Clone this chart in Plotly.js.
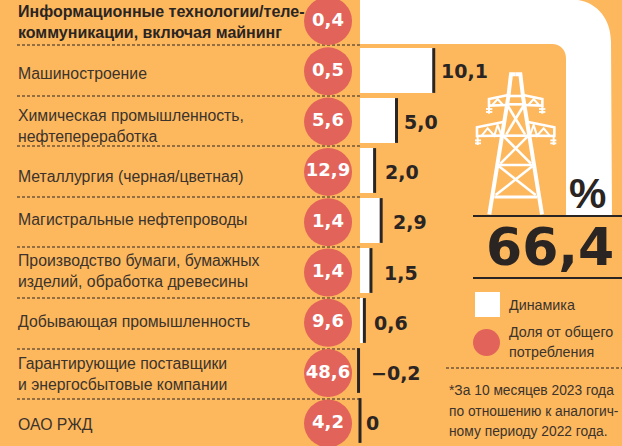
<!DOCTYPE html>
<html><head><meta charset="utf-8">
<script src="https://cdn.plot.ly/plotly-3.0.1.min.js"></script>
<style>html,body{margin:0;padding:0;background:#FDB85E;overflow:hidden}#c{width:622px;height:446px}</style>
</head><body><div id="c"></div>
<script>
const categories = [
 "<b>Информационные технологии/теле-<br>коммуникации, включая майнинг</b>",
 "Машиностроение",
 "Химическая промышленность,<br>нефтепереработка",
 "Металлургия (черная/цветная)",
 "Магистральные нефтепроводы",
 "Производство бумаги, бумажных<br>изделий, обработка древесины",
 "Добывающая промышленность",
 "Гарантирующие поставщики<br>и энергосбытовые компании",
 "ОАО РЖД"];
const dynamics = [66.4, 10.1, 5.0, 2.0, 2.9, 1.5, 0.6, -0.2, 0];
const share = [0.4, 0.5, 5.6, 12.9, 1.4, 1.4, 9.6, 48.6, 4.2];

const W = 622, H = 446;
const BG = '#FDB85E', RED = '#E2635A', INK = '#2A2523', TXT = '#3B332C';
const SANS = '"Liberation Sans",sans-serif';
const WIDE = '"DejaVu Sans",sans-serif';
const px = (x) => x / W, py = (y) => 1 - y / H;
const P = (x, y) => px(x).toFixed(5) + ' ' + py(y).toFixed(5);
const fmt = (v) => v === 0 ? '0' : (v < 0 ? '\u2212' : '') + Math.abs(v).toFixed(1).replace('.', ',');
const rows = categories.map((_, i) => i);

const traces = [
 {type:'bar', orientation:'h', x:dynamics.slice(1), y:rows.slice(1), width:0.9,
  marker:{color:'#fff', line:{width:0}}, hoverinfo:'skip', showlegend:false},
 {type:'scatter', mode:'markers', x:dynamics.slice(1), y:rows.slice(1),
  marker:{symbol:'line-ns', size:32, color:INK, line:{width:3, color:INK}}, hoverinfo:'skip', showlegend:false},
 {type:'scatter', mode:'markers+text', x:share.map(() => -4.38), y:rows, yaxis:'y2',
  marker:{size:48, color:RED, line:{width:0}},
  text:share.map(fmt), textposition:'middle center',
  textfont:{family:WIDE, size:18, color:'#fff', weight:700},
  hoverinfo:'skip', showlegend:false}
];

const labelShift = [1, 2, 4, 5, -3, -2, -1, 1, 1];
const valueGap = [0, 6, 6, 9, 11, 12, 9, 11, 5];
const ann = [];
categories.forEach((c, i) => ann.push({xref:'paper', yref:'y2', x:px(17), y:i, xanchor:'left', yanchor:'middle',
  yshift:-labelShift[i], text:c, align:'left', showarrow:false, borderpad:0,
  font:{family:SANS, size:i === 0 ? 16 : 15.8, color:i === 0 ? INK : TXT}}));
dynamics.slice(1).forEach((v, k) => ann.push({xref:'x', yref:'y2', x:v, y:k + 1, xanchor:'left', yanchor:'middle',
  xshift:valueGap[k + 1], text:'<b>' + fmt(v) + '</b>', showarrow:false, borderpad:0,
  font:{family:WIDE, size:19, color:INK}}));
const free = (x, y, text, font, xanchor) => ann.push({xref:'paper', yref:'paper', x:px(x), y:py(y), xanchor:xanchor || 'left', yanchor:'middle',
  text, align:'left', showarrow:false, borderpad:0, font});
const small = {family:SANS, size:14.3, color:TXT};
const note = {family:SANS, size:13.8, color:TXT};
free(587, 194, '<b>%</b>', {family:SANS, size:42, color:INK}, 'center');
free(550, 247, '<b>' + fmt(dynamics[0]) + '</b>', {family:WIDE, size:52, color:INK}, 'center');
free(508, 305, 'Динамика', small);
free(508, 332, 'Доля от общего', small);
free(508, 352, 'потребления', small);
free(448, 390, '*За 10 месяцев 2023 года', note);
free(448, 411, 'по отношению к аналогич-', note);
free(448, 431, 'ному периоду 2022 года.', note);

const shapes = [];
const pathShape = (path, fill, lineW, color, layer) => shapes.push({type:'path', xref:'paper', yref:'paper', path, layer:layer || 'below',
  fillcolor:fill || 'rgba(0,0,0,0)', line:{width:lineW || 0, color:color || 'rgba(0,0,0,0)'}});
// bent band of the first row
pathShape('M' + P(360,0) + ' L' + P(578,0) + ' C' + P(598,3) + ' ' + P(611,20) + ' ' + P(611,42) +
  ' L' + P(612,215) + ' L' + P(566,215) + ' L' + P(566,58) + ' C' + P(566,50) + ' ' + P(560,44) + ' ' + P(552,44) +
  ' L' + P(360,44) + ' Z', '#fff');
[45, 96, 146, 197, 247, 298, 349, 399].forEach(y => shapes.push({type:'line', xref:'paper', yref:'paper', x0:px(17), x1:px(361), y0:py(y), y1:py(y), layer:'below',
  line:{width:1, color:INK, dash:'3px,2px'}}));
shapes.push({type:'line', xref:'paper', yref:'paper', x0:px(446), x1:px(622), y0:py(368), y1:py(368), layer:'below', line:{width:1, color:INK, dash:'3px,2px'}});
[216, 278].forEach(y => shapes.push({type:'line', xref:'paper', yref:'paper', x0:px(473), x1:px(622), y0:py(y), y1:py(y), layer:'below', line:{width:2, color:INK}}));
shapes.push({type:'rect', xref:'paper', yref:'paper', x0:px(475), x1:px(500), y0:py(292), y1:py(317), fillcolor:'#fff', line:{width:0}});
shapes.push({type:'circle', xref:'paper', yref:'paper', x0:px(473), x1:px(500), y0:py(329), y1:py(356), fillcolor:RED, line:{width:0}});

// pylon pictogram
const T = (a, b) => P(475 + a / 3, 65 + b / 3);
const poly = (pts, w) => pathShape('M' + pts.map(p => T(p[0], p[1])).join(' L'), null, w, '#fff');
const both = (pts, w) => { poly(pts, w); poly(pts.map(p => [244 - p[0], p[1]]), w); };
both([[122,28],[108,28],[100,95],[43,448]], 4);
both([[100,90],[42,102],[42,122],[97,120]], 2.6);
both([[52,120],[68,102],[84,120]], 2);
both([[42,122],[42,146]], 2);
both([[33,132],[52,132]], 1.8);
both([[33,141],[52,141]], 1.8);
both([[88,170],[6,187],[6,213],[82,212]], 2.6);
both([[20,212],[38,190],[58,212],[68,180],[78,208]], 2);
both([[8,213],[8,240]], 2);
both([[0,226],[18,226]], 1.8);
both([[0,235],[18,235]], 1.8);
poly([[100,93],[145,93]], 2.6);
poly([[95,118],[150,118]], 2.6);
both([[97,120],[150,208]], 2.6);
poly([[84,212],[160,212]], 2.6);
both([[86,214],[168,296]], 2.6);
poly([[72,300],[172,300]], 2.6);
both([[72,304],[182,390]], 2.6);
poly([[58,396],[186,396]], 3);

const s = 7.3;
const layout = {
 width:W, height:H, margin:{l:0, r:0, t:0, b:0}, paper_bgcolor:BG, plot_bgcolor:BG, showlegend:false,
 xaxis:{range:[-360 / s, (W - 360) / s], visible:false, fixedrange:true},
 yaxis:{range:[(H - 20.5) / 50, -20.5 / 50], visible:false, fixedrange:true},
 yaxis2:{range:[(H - 21) / 50.3, -21 / 50.3], visible:false, fixedrange:true, overlaying:'y'},
 shapes, annotations:ann
};
Plotly.newPlot('c', traces, layout, {displayModeBar:false, staticPlot:true});
</script></body></html>
